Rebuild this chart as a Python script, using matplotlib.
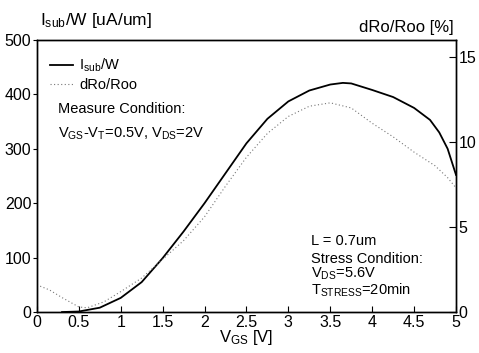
import numpy as np
import matplotlib
matplotlib.use("Agg")
import matplotlib.pyplot as plt

plt.rcParams['font.family'] = ['Liberation Sans', 'DejaVu Sans']
plt.rcParams['mathtext.default'] = 'regular'

# Isub/W (left axis, uA/um)
vgs_isub = [0.3, 0.5, 0.75, 1.0, 1.25, 1.5, 1.75, 2.0, 2.25, 2.5, 2.75, 3.0,
            3.25, 3.5, 3.65, 3.75, 4.0, 4.25, 4.5, 4.69, 4.8, 4.9, 5.0]
isub = [0, 1, 8, 26, 55, 99, 148, 200, 255, 310, 355, 387,
        407, 418, 421, 420, 408, 395, 375, 353, 330, 300, 252]

# dRo/Roo (right axis, %)
vgs_dro = [0.0, 0.15, 0.3, 0.5, 0.6, 0.8, 1.0, 1.25, 1.5, 1.75, 2.0, 2.25,
           2.5, 2.75, 3.0, 3.25, 3.5, 3.75, 4.0, 4.25, 4.5, 4.75, 4.9, 5.0]
dro = [1.6, 1.3, 0.85, 0.3, 0.25, 0.6, 1.2, 2.0, 3.1, 4.2, 5.6, 7.4,
       9.1, 10.5, 11.5, 12.1, 12.3, 12.0, 11.1, 10.3, 9.4, 8.6, 7.9, 7.3]

fig = plt.figure(figsize=(4.79, 3.53), dpi=100)
ax = fig.add_axes([0.077, 0.116, 0.875, 0.771])
ax2 = ax.twinx()

l1, = ax.plot(vgs_isub, isub, color='black', lw=1.3, label='$I_{sub}$/W')
l2, = ax2.plot(vgs_dro, dro, color='#777777', lw=0.8, ls=(0, (1, 2.2)), label='dRo/Roo')

ax.set_xlim(0, 5)
ax.set_ylim(0, 500)
ax2.set_ylim(0, 16)
ax.set_xticks(np.arange(0, 5.01, 0.5))
ax.set_xticklabels(['0', '0.5', '1', '1.5', '2', '2.5', '3', '3.5', '4', '4.5', '5'])
ax.set_yticks(range(0, 501, 100))
ax2.set_yticks([0, 5, 10, 15])

for a in (ax, ax2):
    for s in a.spines.values():
        s.set_linewidth(1.0)

ax.tick_params(axis='x', direction='in', length=4, labelsize=11.5, pad=2)
ax.tick_params(axis='y', direction='out', length=3, labelsize=11.5, pad=1)
ax2.tick_params(axis='y', direction='in', length=5, labelsize=11.5, pad=2)

ax.set_xlabel('$V_{GS}$ [V]', fontsize=12, labelpad=-1)

fig.text(0.083, 0.915, '$I_{sub}$/W [uA/um]', fontsize=12.5, ha='left', va='bottom')
fig.text(0.948, 0.90, 'dRo/Roo [%]', fontsize=12, ha='right', va='bottom')

ax.legend(handles=[l1, l2], loc='upper left', bbox_to_anchor=(0.01, 0.97),
          frameon=False, fontsize=10.5, handlelength=1.6, handletextpad=0.4,
          labelspacing=0.25, borderaxespad=0.2)

ax.text(0.05, 0.73, 'Measure Condition:', transform=ax.transAxes, fontsize=10.5)
ax.text(0.05, 0.64, '$V_{GS}$-$V_{T}$=0.5V, $V_{DS}$=2V', transform=ax.transAxes, fontsize=10.5)

ax.text(0.655, 0.245, 'L = 0.7um', transform=ax.transAxes, fontsize=10.5)
ax.text(0.655, 0.18, 'Stress Condition:', transform=ax.transAxes, fontsize=10.5)
ax.text(0.655, 0.125, '$V_{DS}$=5.6V', transform=ax.transAxes, fontsize=10.5)
ax.text(0.655, 0.065, '$T_{STRESS}$=20min', transform=ax.transAxes, fontsize=10.5)

fig.savefig('out.png', dpi=100)
